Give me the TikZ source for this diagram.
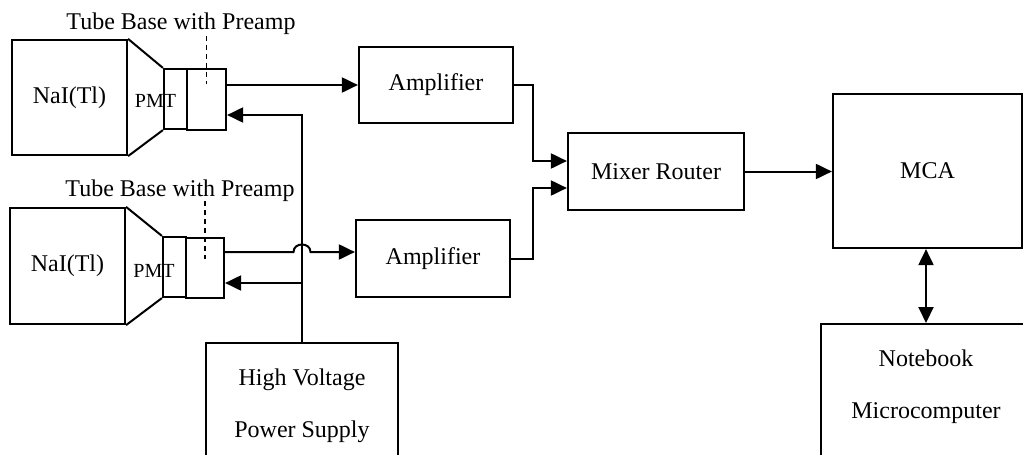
\documentclass[tikz,border=0pt]{standalone}
\usepackage{fontspec}
\setmainfont{Liberation Serif}
\usetikzlibrary{arrows.meta}

\begin{document}
\begin{tikzpicture}
[
    x=0.5pt, y=-0.5pt,
    font=\fontsize{12pt}{26pt}\selectfont,
    block/.style={draw, line width=1.1pt, inner sep=0pt, align=center},
    link/.style={line width=1pt},
    sig/.style={link, -{Triangle[length=8pt,width=7.5pt]}},
    both/.style={link, {Triangle[length=8pt,width=7.5pt]}-{Triangle[length=8pt,width=7.5pt]}},
    probe/.style={line width=0.8pt, dash pattern=on 2.5pt off 2pt}
]
    \useasboundingbox (0,0) rectangle (1023,455);
    \clip (0,0) rectangle (1023,455);

    % upper detector
    \node [block, minimum width=57.5pt, minimum height=57.5pt] (naiA) at (69.5,97.5) {NaI(Tl)};
    \node [block, minimum width=11.5pt, minimum height=30pt] (pmtA) at (175.5,99) {};
    \node [block, minimum width=19.5pt, minimum height=30.5pt] (baseA) at (206.5,99.5) {};
    \node [font=\fontsize{10pt}{12pt}\selectfont] (pmtTextA) at (155.5,101) {PMT};
    \node (tubeA) at (181,24) {Tube Base with Preamp};
    \draw [link] (naiA.north east) -- (pmtA.north west);
    \draw [link] (naiA.south east) -- (pmtA.south west);
    \draw [probe] ([yshift=16pt]baseA.north) -- ([yshift=-8pt]baseA.north);

    % lower detector
    \node [block, minimum width=57.5pt, minimum height=58pt] (naiB) at (67.5,266) {NaI(Tl)};
    \node [block, minimum width=11.5pt, minimum height=30pt] (pmtB) at (174.5,267) {};
    \node [block, minimum width=19pt, minimum height=30pt] (baseB) at (205,268) {};
    \node [font=\fontsize{10pt}{12pt}\selectfont] (pmtTextB) at (154,271) {PMT};
    \node (tubeB) at (180,191) {Tube Base with Preamp};
    \draw [link] (naiB.north east) -- (pmtB.north west);
    \draw [link] (naiB.south east) -- (pmtB.south west);
    \draw [probe] ([yshift=18pt]baseB.north) -- ([yshift=-11pt]baseB.north);

    % electronics
    \node [block, minimum width=77pt, minimum height=38pt] (ampA) at (436,85) {Amplifier};
    \node [block, minimum width=77pt, minimum height=38.5pt] (ampB) at (433,258.5) {Amplifier};
    \node [block, minimum width=88pt, minimum height=38.5pt] (mixer) at (656,171.5) {Mixer Router};
    \node [block, minimum width=94.5pt, minimum height=77pt] (mca) at (927.5,171) {MCA};
    \node [block, minimum width=96pt, minimum height=63pt] (hv) at (302,406) {High Voltage\\Power Supply};
    \node [block, minimum width=105pt, minimum height=80pt, anchor=north] (nb) at (926,323) {};
    \node [align=center] (nbText) at (926,387) {Notebook\\Microcomputer};

    % signals
    \draw [sig] (baseA.east |- ampA.west) -- (ampA.west);
    \draw [sig] (baseB.east |- 0,252) -- (293.5,252)
        .. controls (293.5,242) and (310.5,242) .. (310.5,252) -- (ampB.west |- 0,252);
    \draw [sig] (ampA.east) -| (533,161) -- (mixer.west |- 0,161);
    \draw [sig] (ampB.east) -| (533,188) -- (mixer.west |- 0,188);
    \draw [sig] (mixer.east) -- (mixer.east -| mca.west);
    \draw [both] (mca.south -| nb.north) -- (nb.north);

    % high voltage
    \draw [sig] (hv.north) -- (hv.north |- 0,115) -- (baseA.east |- 0,115);
    \draw [sig] (hv.north |- 0,283) -- (baseB.east |- 0,283);
\end{tikzpicture}
\end{document}
